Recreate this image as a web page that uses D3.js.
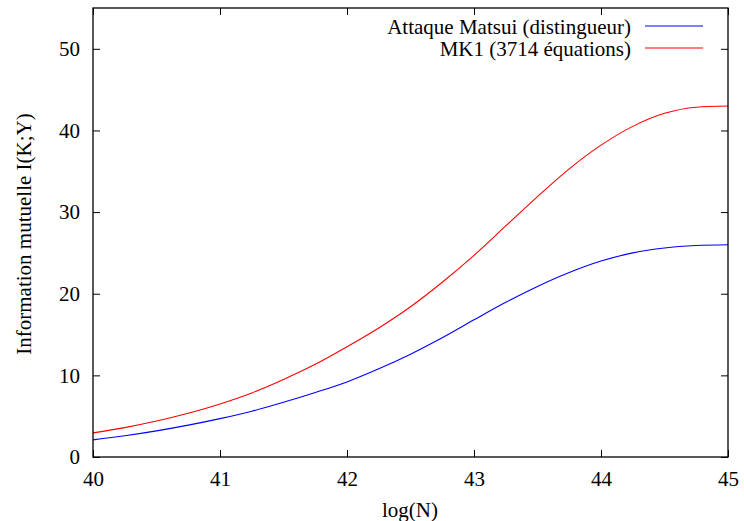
<!DOCTYPE html>
<html><head><meta charset="utf-8">
<script src="https://cdn.jsdelivr.net/npm/d3@7/dist/d3.min.js"></script>
<style>body{margin:0;background:#fff}svg{display:block}svg text{font-family:"Liberation Serif",serif;fill:#000}</style>
</head><body><svg id="c" width="744" height="521"></svg>
<script>
const logN = [40,40.25,40.5,40.75,41,41.25,41.5,41.75,42,42.25,42.5,42.75,43,43.25,43.5,43.75,44,44.25,44.5,44.75,45];
const matsui = [2.1,2.6,3.2,3.9,4.7,5.6,6.7,7.9,9.2,10.8,12.6,14.6,16.8,18.95,20.9,22.6,24.0,25.0,25.6,25.9,26.0];
const mk1 = [2.95,3.6,4.4,5.35,6.5,7.85,9.5,11.35,13.5,15.8,18.4,21.4,24.7,28.3,31.9,35.3,38.2,40.5,42.1,42.85,43.0];
const seriesNames = ["Attaque Matsui (distingueur)","MK1 (3714 équations)"];
const seriesColors = ["#0000ff","#ff0000"];
const xTicks = [40,41,42,43,44,45];
const yTicks = [0,10,20,30,40,50];

const svg = d3.select("#c");
const L=93, R=728, T=8, B=457;
const x = d3.scaleLinear().domain([40,45]).range([L,R]);
const y = d3.scaleLinear().domain([0,55]).range([B,T]);
const FF = "'Liberation Serif',serif";
const FS = 21;

const tl = 7;
svg.append("g").attr("transform",`translate(0,${B})`)
  .call(d3.axisBottom(x).tickValues(xTicks).tickSize(-tl).tickPadding(tl+7).tickFormat(d3.format("d")))
  .call(g=>{g.attr("font-family",FF).attr("font-size",FS);g.select(".domain").remove();});
svg.append("g").attr("transform",`translate(0,${T})`)
  .call(d3.axisTop(x).tickValues(xTicks).tickSize(-tl).tickFormat(""))
  .call(g=>g.select(".domain").remove());
svg.append("g").attr("transform",`translate(${L},0)`)
  .call(d3.axisLeft(y).tickValues(yTicks).tickSize(-tl).tickPadding(tl+6).tickFormat(d3.format("d")))
  .call(g=>{g.attr("font-family",FF).attr("font-size",FS);g.select(".domain").remove();});
svg.append("g").attr("transform",`translate(${R},0)`)
  .call(d3.axisRight(y).tickValues(yTicks).tickSize(-tl).tickFormat(""))
  .call(g=>g.select(".domain").remove());
svg.selectAll(".tick line").attr("stroke","#000");

const line = d3.line().x((d,i)=>x(logN[i])).y(d=>y(d)).curve(d3.curveMonotoneX);
[matsui,mk1].forEach((s,k)=>{
  svg.append("path").datum(s).attr("d",line).attr("fill","none")
    .attr("stroke",seriesColors[k]).attr("stroke-width",1.1);
});

svg.append("rect").attr("x",L).attr("y",T).attr("width",R-L).attr("height",B-T)
  .attr("fill","none").attr("stroke","#000").attr("stroke-width",1.3);

seriesNames.forEach((n,k)=>{
  const yy = 26 + k*22;
  svg.append("text").attr("x",631).attr("y",yy).attr("dy","0.36em")
    .attr("text-anchor","end").attr("font-family",FF).attr("font-size",FS).text(n);
  svg.append("line").attr("x1",645).attr("x2",703).attr("y1",yy).attr("y2",yy)
    .attr("stroke",seriesColors[k]).attr("stroke-width",1.2);
});

svg.append("text").attr("x",410).attr("y",510).attr("dy","0.35em")
  .attr("text-anchor","middle").attr("font-family",FF).attr("font-size",FS).text("log(N)");
svg.append("text").attr("transform",`translate(24,234) rotate(-90)`).attr("dy","0.35em")
  .attr("text-anchor","middle").attr("font-family",FF).attr("font-size",FS).text("Information mutuelle I(K;Y)");
</script></body></html>
